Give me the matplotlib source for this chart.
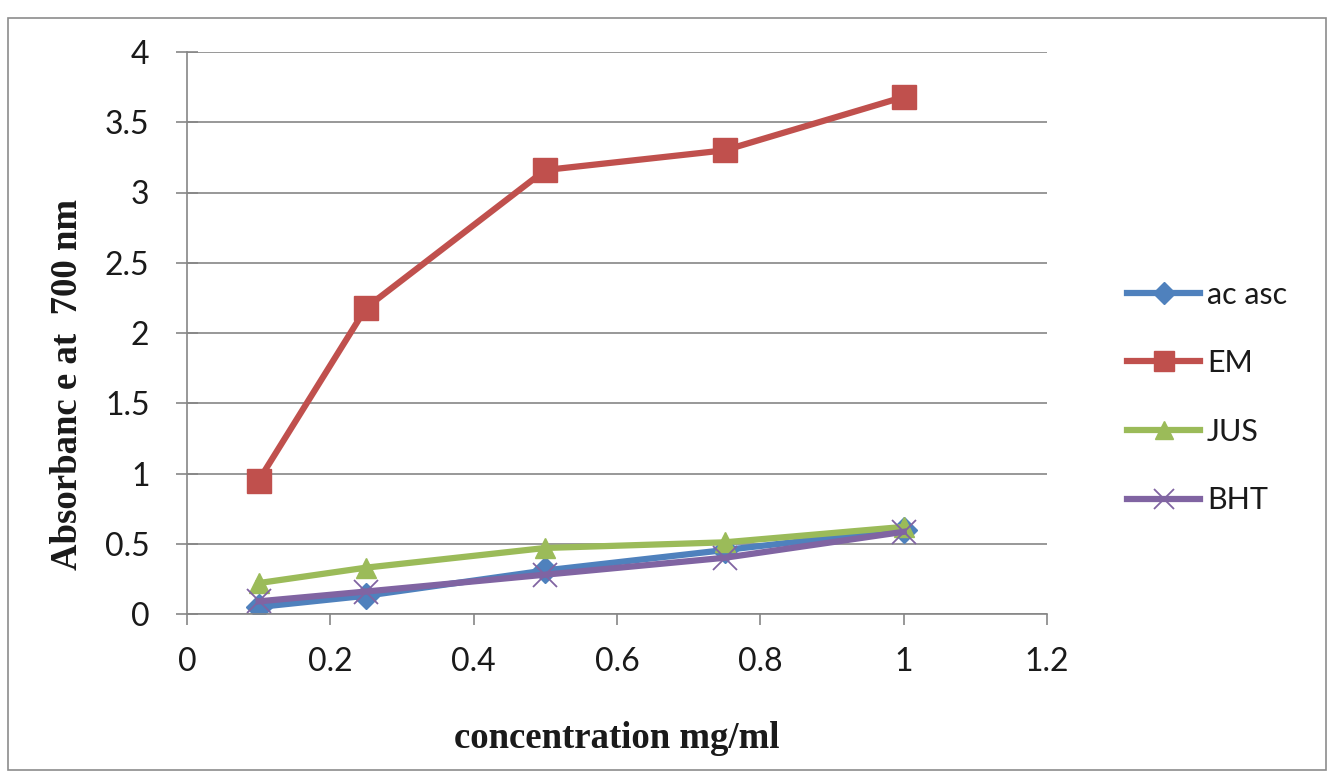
import matplotlib
matplotlib.use("Agg")
import matplotlib.pyplot as plt
from matplotlib.patches import Rectangle

x = [0.1, 0.25, 0.5, 0.75, 1.0]
ac_asc = [0.05, 0.13, 0.31, 0.455, 0.60]
em = [0.95, 2.18, 3.16, 3.30, 3.68]
jus = [0.22, 0.33, 0.47, 0.51, 0.62]
bht = [0.09, 0.16, 0.28, 0.40, 0.585]

series_names = ["ac asc", "EM", "JUS", "BHT"]
colors = ["#4F81BD", "#C0504D", "#9BBB59", "#8064A2"]
markers = ["D", "s", "^", "x"]

fig = plt.figure(figsize=(13.36, 7.79), dpi=100)
ax = fig.add_axes([187/1336, 1-614/779, (1047-187)/1336, (614-52)/779])

fig.patches.append(Rectangle((8/1336, 1-770/779), (1326-8)/1336, (770-18)/779,
                             transform=fig.transFigure, fill=False,
                             edgecolor="#8c8c8c", linewidth=1.2))

data = [ac_asc, em, jus, bht]
msizes = [13, 17, 15, 17]
for name, vals, c, m, ms in zip(series_names, data, colors, markers, msizes):
    kw = dict(markeredgewidth=1.0)
    if m == "x":
        kw["markeredgewidth"] = 1.3
    ax.plot(x, vals, color=c, linewidth=4.5, marker=m, markersize=ms,
            markerfacecolor=c, markeredgecolor=c, label=name, **kw)

ax.set_xlim(0, 1.2)
ax.set_ylim(0, 4)
ax.set_xticks([0, 0.2, 0.4, 0.6, 0.8, 1.0, 1.2])
ax.set_xticklabels(["0", "0.2", "0.4", "0.6", "0.8", "1", "1.2"])
ax.set_yticks([0, 0.5, 1, 1.5, 2, 2.5, 3, 3.5, 4])
ax.set_yticklabels(["0", "0.5", "1", "1.5", "2", "2.5", "3", "3.5", "4"])
ax.grid(axis="y", color="#868686", linewidth=1.2)
ax.set_axisbelow(True)
for s in ["top", "right"]:
    ax.spines[s].set_visible(False)
for s in ["left", "bottom"]:
    ax.spines[s].set_color("#868686")
    ax.spines[s].set_linewidth(1.2)
ax.tick_params(color="#868686", width=1.2, labelsize=23, labelcolor="#1a1a1a")
for lab in ax.get_xticklabels() + ax.get_yticklabels():
    lab.set_family("Lato")
ax.tick_params(axis="y", direction="inout", length=16, pad=19)
ax.tick_params(axis="x", direction="out", length=8, pad=16)

fig.text(68/1336, 1-385/779, "Absorbanc e at  700 nm", rotation=90,
         ha="center", va="center", fontsize=26.5, fontweight="bold",
         family="Liberation Serif", color="#1a1a1a")
fig.text(617/1336, 1-748/779, "concentration mg/ml", ha="center", va="baseline",
         fontsize=26.5, fontweight="bold", family="Liberation Serif",
         color="#1a1a1a")

leg = ax.legend(loc="center left", bbox_to_anchor=(1127/1336, 1-397.5/779),
                bbox_transform=fig.transFigure, frameon=False,
                prop={"family": "Lato", "size": 22},
                labelspacing=1.33, handlelength=2.39, handletextpad=0.23,
                markerscale=0.85, borderpad=0, borderaxespad=0)
for t in leg.get_texts():
    t.set_color("#1a1a1a")
fig.savefig("out.png", dpi=100)
